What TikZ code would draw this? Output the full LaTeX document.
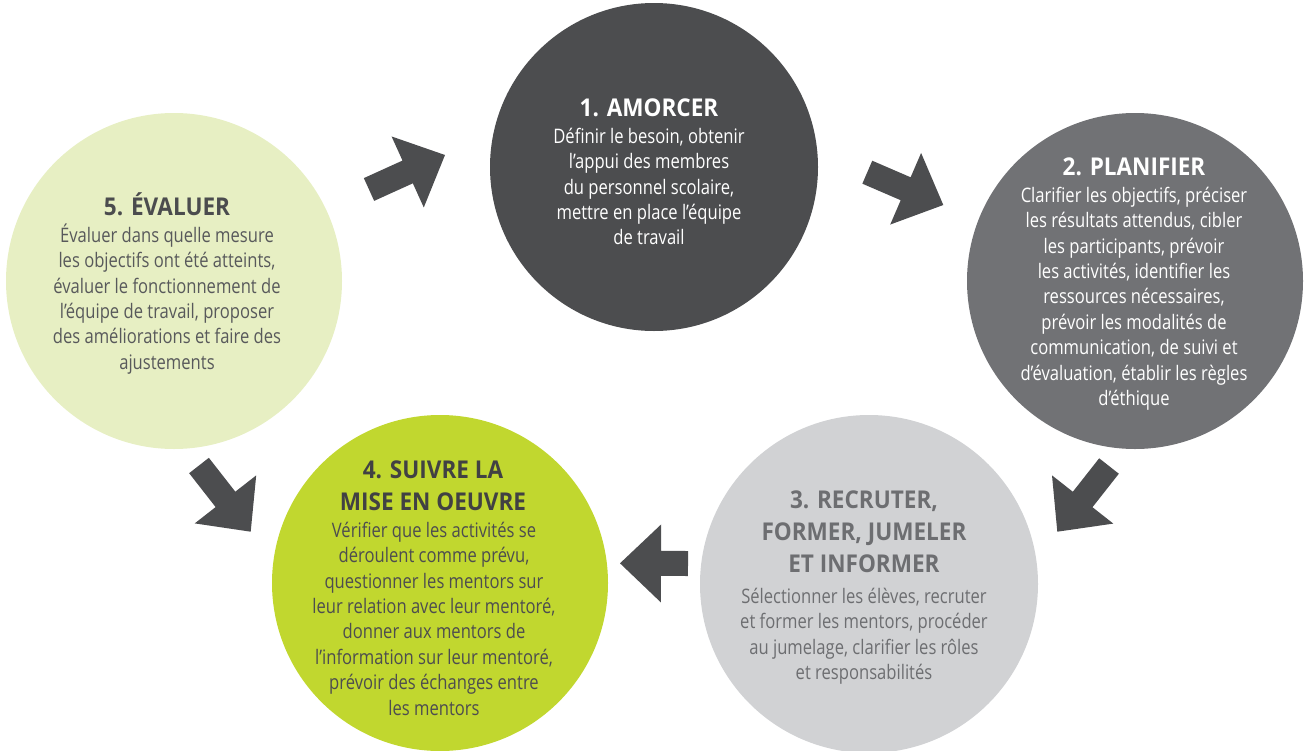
\documentclass[tikz,border=0pt]{standalone}
\usepackage{fontspec}
\setmainfont{Open Sans}[FakeStretch=0.83]
\newfontfamily\titlefont{Open Sans}[FakeStretch=0.92]
\usetikzlibrary{calc}
\definecolor{cone}{HTML}{4C4D4F}
\definecolor{ctwo}{HTML}{717275}
\definecolor{cthree}{HTML}{D1D2D4}
\definecolor{cfour}{HTML}{C1D72F}
\definecolor{cfive}{HTML}{E7EFC3}
\definecolor{arrowc}{HTML}{4C4D4F}
\definecolor{tthree}{HTML}{6D6E71}
\definecolor{tfour}{HTML}{414143}
\definecolor{bfour}{HTML}{4D4D4F}
\definecolor{tfive}{HTML}{4B4C4E}
\definecolor{bfive}{HTML}{58595B}
\tikzset{
  disc/.style={circle, minimum size=#1, inner sep=0pt, draw=none},
  ttl/.style={anchor=north, align=center, inner sep=0pt, font=\titlefont\bfseries\fontsize{24.5}{32}\selectfont},
  bdy/.style={anchor=north, align=center, inner sep=0pt, font=\fontsize{20}{25.4}\selectfont},
}
\newcommand\blockarrow[2]{%
  \coordinate (#1hb) at ($(#2)!41pt!(#1)$);
  \fill[arrowc] ($(#1)!12.5pt!90:(#2)$) -- ($(#1hb)!12.5pt!90:(#2)$) -- ($(#1hb)!39pt!90:(#2)$)
    -- (#2) -- ($(#1hb)!39pt!-90:(#2)$) -- ($(#1hb)!12.5pt!-90:(#2)$) -- ($(#1)!12.5pt!-90:(#2)$) -- cycle;
}
\begin{document}
\begin{tikzpicture}[x=1pt,y=-1pt]
\useasboundingbox (0,0) rectangle (1307,750);
\clip (0,0) rectangle (1307,750);
% circles
\node[disc=328pt, fill=cone] (n1) at (654,167) {};
\node[disc=336pt, fill=ctwo] (n2) at (1135,281) {};
\node[disc=338pt, fill=cthree] (n3) at (869,584) {};
\node[disc=336pt, fill=cfour] (n4) at (440,583) {};
\node[disc=336pt, fill=cfive] (n5) at (174,281) {};
% arrows
\coordinate (aAt) at (369,189.5); \coordinate (aAh) at (445,155);
\coordinate (aBt) at (867.3,172.2); \coordinate (aBh) at (943.3,205);
\coordinate (aCt) at (1109,466); \coordinate (aCh) at (1057.3,531.7);
\coordinate (aDt) at (688,563.5); \coordinate (aDh) at (620,563.3);
\coordinate (aEt) at (199,465.5); \coordinate (aEh) at (250.7,531.7);
\blockarrow{aAt}{aAh}
\blockarrow{aBt}{aBh}
\blockarrow{aCt}{aCh}
\blockarrow{aDt}{aDh}
\blockarrow{aEt}{aEh}
% texts circle 1
\node[ttl, text=white] (t1) at (649,92) {\rule{0pt}{24pt}1. AMORCER};
\node[bdy, text=white] (b1) at (649,123) {\rule{0pt}{20pt}Définir le besoin, obtenir\\ l’appui des membres\\ du personnel scolaire,\\ mettre en place l’équipe\\ de travail};
% circle 2
\node[ttl, text=white] (t2) at (1134,151) {\rule{0pt}{24pt}2. PLANIFIER};
\node[bdy, text=white] (b2) at (1134,182) {\rule{0pt}{20pt}Clarifier les objectifs, préciser\\ les résultats attendus, cibler\\ les participants, prévoir\\ les activités, identifier les\\ ressources nécessaires,\\ prévoir les modalités de\\ communication, de suivi et\\ d’évaluation, établir les règles\\ d’éthique};
% circle 3
\node[ttl, text=tthree] (t3) at (864,484) {\rule{0pt}{24pt}3. RECRUTER,\\ FORMER, JUMELER\\ ET INFORMER};
\node[bdy, text=tthree] (b3) at (864,583) {\rule{0pt}{20pt}Sélectionner les élèves, recruter\\ et former les mentors, procéder\\ au jumelage, clarifier les rôles\\ et responsabilités};
% circle 4
\node[ttl, text=tfour] (t4) at (433,454) {\rule{0pt}{24pt}4. SUIVRE LA\\ MISE EN OEUVRE};
\node[bdy, text=bfour] (b4) at (434,517) {\rule{0pt}{20pt}Vérifier que les activités se\\ déroulent comme prévu,\\ questionner les mentors sur\\ leur relation avec leur mentoré,\\ donner aux mentors de\\ l’information sur leur mentoré,\\ prévoir des échanges entre\\ les mentors};
% circle 5
\node[ttl, text=tfive] (t5) at (167,191) {\rule{0pt}{24pt}5. ÉVALUER};
\node[bdy, text=bfive] (b5) at (167,222) {\rule{0pt}{20pt}Évaluer dans quelle mesure\\ les objectifs ont été atteints,\\ évaluer le fonctionnement de\\ l’équipe de travail, proposer\\ des améliorations et faire des\\ ajustements};
\end{tikzpicture}
\end{document}
